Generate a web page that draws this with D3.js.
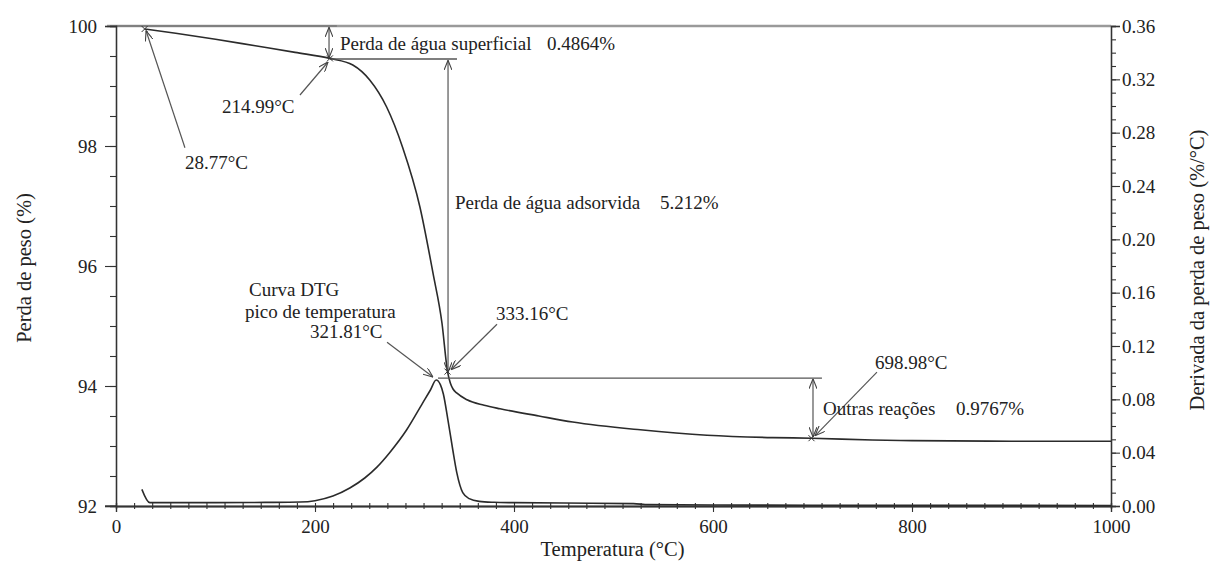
<!DOCTYPE html>
<html><head><meta charset="utf-8">
<script src="https://cdn.jsdelivr.net/npm/d3@7"></script>
<style>
html,body{margin:0;padding:0;background:#fff;}
svg{display:block;}
text{font-family:"Liberation Serif","Times New Roman",serif;fill:#222;}
</style></head>
<body>
<svg id="chart" width="1212" height="561"></svg>
<script>
// ---- data ----
const tgaTemp = [28.77, 60, 100, 140, 180, 215, 238, 255, 272, 288, 305.5, 318.6, 327.6, 333.2, 336, 338.7, 342.7, 352.8, 370, 386, 425, 459, 527, 594, 660, 699, 760, 800, 900, 1000];
const tgaWeight = [99.95, 99.88, 99.78, 99.67, 99.56, 99.46, 99.35, 99.1, 98.65, 97.98, 96.98, 95.88, 95.05, 94.24, 94.05, 93.95, 93.88, 93.77, 93.68, 93.62, 93.5, 93.4, 93.27, 93.18, 93.14, 93.13, 93.1, 93.09, 93.08, 93.08];
const dtgTemp = [26, 34, 60, 100, 150, 185, 200, 218, 235, 250, 262, 275, 292, 308, 316, 321.8, 326, 329, 333.5, 338.5, 342.5, 348.5, 355, 365, 380, 400, 450, 520, 535, 600, 700, 800, 1000];
const dtgValue = [0.0125, 0.0025, 0.0025, 0.0025, 0.0027, 0.003, 0.004, 0.0075, 0.0135, 0.021, 0.029, 0.04, 0.057, 0.077, 0.087, 0.0945, 0.091, 0.084, 0.065, 0.042, 0.025, 0.010, 0.0055, 0.0035, 0.0028, 0.0025, 0.0022, 0.0018, 0.001, 0.0008, 0.0006, 0.0005, 0.0004];
const xTicks = [0, 200, 400, 600, 800, 1000];
const yLeftTicks = [92, 94, 96, 98, 100];
const yRightTicks = [0, 0.04, 0.08, 0.12, 0.16, 0.20, 0.24, 0.28, 0.32, 0.36];
const xTitle = "Temperatura (°C)";
const yLeftTitle = "Perda de peso (%)";
const yRightTitle = "Derivada da perda de peso (%/°C)";
// annotation texts (T, weight%) in data units
const labels = [
  {t: 69.3, w: 97.62, text: "28.77°C"},
  {t: 106.5, w: 98.55, text: "214.99°C"},
  {t: 225.1, w: 99.6, text: "Perda de água superficial"},
  {t: 433.2, w: 99.6, text: "0.4864%"},
  {t: 340.7, w: 96.95, text: "Perda de água adsorvida"},
  {t: 546.7, w: 96.95, text: "5.212%"},
  {t: 133.7, w: 95.5, text: "Curva DTG"},
  {t: 129.6, w: 95.13, text: "pico de temperatura"},
  {t: 195, w: 94.8, text: "321.81°C"},
  {t: 381.9, w: 95.1, text: "333.16°C"},
  {t: 762.8, w: 94.28, text: "698.98°C"},
  {t: 710.6, w: 93.52, text: "Outras reações"},
  {t: 844.2, w: 93.52, text: "0.9767%"}
];
// arrows in data units; heads: "end" or "both"
const arrows = [
  {t1: 69.3, w1: 97.97, t2: 30.2, w2: 99.92, heads: "end"},
  {t1: 184.9, w1: 98.85, t2: 213.1, w2: 99.4, heads: "end"},
  {t1: 214.1, w1: 99.98, t2: 214.1, w2: 99.47, heads: "both"},
  {t1: 333.7, w1: 99.43, t2: 333.7, w2: 94.23, heads: "both"},
  {t1: 272.4, w1: 94.73, t2: 318.6, w2: 94.15, heads: "end"},
  {t1: 382.9, w1: 95.03, t2: 336.7, w2: 94.27, heads: "end"},
  {t1: 700.5, w1: 94.12, t2: 700.5, w2: 93.15, heads: "both"},
  {t1: 764.8, w1: 94.23, t2: 702.5, w2: 93.17, heads: "end"}
];
const levelLines = [
  {t1: 215.1, t2: 342.7, w: 99.45},
  {t1: 323.6, t2: 709.5, w: 94.13}
];
const markerPts = [[28.77, 99.95], [214.99, 99.46], [333.16, 94.24], [698.98, 93.13]];

// ---- layout ----
const svg = d3.select("#chart");
const L = 116, R = 1111, T = 26, B = 506;
const x = d3.scaleLinear().domain([0, 1000]).range([L, R]);
const yL = d3.scaleLinear().domain([92, 100]).range([B, T]);
const yR = d3.scaleLinear().domain([0, 0.36]).range([B, T]);
const FS = 19;
const TFS = 20.5;

// top reference line at 100%
svg.append("line").attr("x1", x(-9)).attr("x2", x(1000)).attr("y1", yL(100)).attr("y2", yL(100))
  .attr("stroke", "#9a9a9a").attr("stroke-width", 2.5);
svg.append("line").attr("x1", x(0)).attr("x2", x(222)).attr("y1", yL(100)).attr("y2", yL(100))
  .attr("stroke", "#666").attr("stroke-width", 1.2);

// axes
function styleAxis(g) {
  g.select(".domain").attr("stroke", "#333").attr("stroke-width", 1.3);
  g.selectAll(".tick line").attr("stroke", "#333").attr("stroke-width", 1.1);
  g.selectAll("text").style("font-size", FS + "px").style("font-family", '"Liberation Serif",serif').attr("fill", "#222");
}
// left
svg.append("g").attr("transform", `translate(${L},0)`)
  .call(d3.axisLeft(yL).tickValues(d3.range(92, 100.001, 0.5)).tickSize(6).tickFormat(""))
  .call(styleAxis);
svg.append("g").attr("transform", `translate(${L},0)`)
  .call(d3.axisLeft(yL).tickValues(yLeftTicks).tickSize(11).tickPadding(8).tickFormat(d3.format("d")))
  .call(styleAxis);
// right
svg.append("g").attr("transform", `translate(${R},0)`)
  .call(d3.axisRight(yR).tickValues(d3.range(0, 0.3601, 0.01)).tickSize(5).tickFormat(""))
  .call(styleAxis);
svg.append("g").attr("transform", `translate(${R},0)`)
  .call(d3.axisRight(yR).tickValues(yRightTicks).tickSize(9).tickPadding(2).tickFormat(d3.format(".2f")))
  .call(styleAxis);
// bottom
svg.append("g").attr("transform", `translate(0,${B})`)
  .call(d3.axisBottom(x).tickValues(d3.range(0, 1000.01, 200 / 11)).tickSize(3).tickFormat(""))
  .call(styleAxis);
svg.append("g").attr("transform", `translate(0,${B})`)
  .call(d3.axisBottom(x).tickValues(d3.range(0, 1000.01, 200 / 11)).tickSize(-3).tickFormat(""))
  .call(styleAxis);
svg.append("g").attr("transform", `translate(0,${B})`)
  .call(d3.axisBottom(x).tickValues(xTicks).tickSize(6).tickPadding(8).tickFormat(d3.format("d")))
  .call(styleAxis);
svg.append("line").attr("x1", x(-11)).attr("x2", x(0)).attr("y1", B).attr("y2", B).attr("stroke", "#333").attr("stroke-width", 1.3);

// axis titles
svg.append("text").attr("transform", `translate(31,${(T + B) / 2 + 2}) rotate(-90)`)
  .attr("text-anchor", "middle").style("font-size", TFS + "px").text(yLeftTitle);
svg.append("text").attr("transform", `translate(1204,${(T + B) / 2 + 4}) rotate(-90)`)
  .attr("text-anchor", "middle").style("font-size", TFS + "px").text(yRightTitle);
svg.append("text").attr("x", (L + R) / 2 - 1).attr("y", 556)
  .attr("text-anchor", "middle").style("font-size", TFS + "px").text(xTitle);

// curves
const tga = tgaTemp.map((t, i) => [t, tgaWeight[i]]);
const dtg = dtgTemp.map((t, i) => [t, dtgValue[i]]);
svg.append("path").datum(tga)
  .attr("d", d3.line().x(d => x(d[0])).y(d => yL(d[1])).curve(d3.curveMonotoneX))
  .attr("fill", "none").attr("stroke", "#2b2b2b").attr("stroke-width", 1.6);
svg.append("path").datum(dtg)
  .attr("d", d3.line().x(d => x(d[0])).y(d => yR(d[1])).curve(d3.curveMonotoneX))
  .attr("fill", "none").attr("stroke", "#2b2b2b").attr("stroke-width", 1.6);

// arrow marker
const defs = svg.append("defs");
defs.append("marker").attr("id", "ah").attr("viewBox", "0 0 10 8")
  .attr("refX", 10).attr("refY", 4).attr("markerWidth", 10).attr("markerHeight", 8)
  .attr("markerUnits", "userSpaceOnUse").attr("orient", "auto-start-reverse")
  .append("path").attr("d", "M0,0 L10,4 L0,8").attr("fill", "none").attr("stroke", "#444").attr("stroke-width", 1.1);

// level lines
svg.selectAll(".lvl").data(levelLines).enter().append("line")
  .attr("x1", d => x(d.t1)).attr("x2", d => x(d.t2)).attr("y1", d => yL(d.w)).attr("y2", d => yL(d.w))
  .attr("stroke", "#555").attr("stroke-width", 1.3);

// arrows
svg.selectAll(".arr").data(arrows).enter().append("line")
  .attr("x1", d => x(d.t1)).attr("y1", d => yL(d.w1)).attr("x2", d => x(d.t2)).attr("y2", d => yL(d.w2))
  .attr("stroke", "#555").attr("stroke-width", 1.2)
  .attr("marker-end", "url(#ah)")
  .attr("marker-start", d => d.heads === "both" ? "url(#ah)" : null);

// small cross markers
markerPts.forEach(p => {
  const cx = x(p[0]), cy = yL(p[1]);
  svg.append("path").attr("d", `M${cx - 3},${cy - 3}L${cx + 3},${cy + 3}M${cx - 3},${cy + 3}L${cx + 3},${cy - 3}`)
    .attr("stroke", "#333").attr("stroke-width", 1);
});

// labels
svg.selectAll(".lab").data(labels).enter().append("text")
  .attr("x", d => x(d.t)).attr("y", d => yL(d.w))
  .style("font-size", FS + "px").text(d => d.text);
</script>
</body></html>
